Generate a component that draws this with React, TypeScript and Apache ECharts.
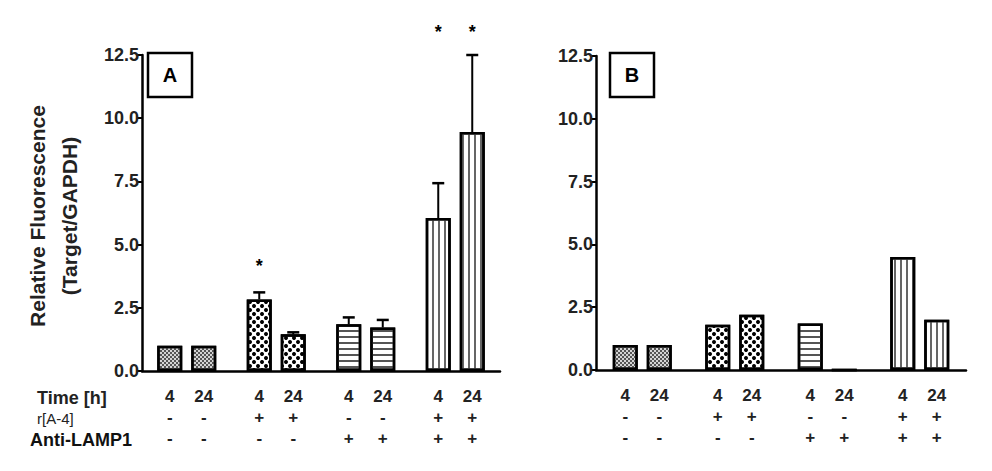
import React, { useEffect, useRef } from "react";
import * as echarts from "echarts";

// ---------- data ----------
const categories = ["Control", "r[A-4]", "Anti-LAMP1", "r[A-4] + Anti-LAMP1"];
const times = ["4", "24"];
const rA4Signs = [["-", "-"], ["+", "+"], ["-", "-"], ["+", "+"]];
const antiLampSigns = [["-", "-"], ["-", "-"], ["+", "+"], ["+", "+"]];
const yTicks = [0, 2.5, 5, 7.5, 10, 12.5];

// Panel A
const aMean4h = [1.0, 2.83, 1.85, 6.05];
const aMean24h = [1.0, 1.45, 1.72, 9.45];
const aErr4h = [0, 0.28, 0.27, 1.38];
const aErr24h = [0, 0.08, 0.3, 3.05];
const aStar4h: (number | null)[] = [null, 4.15, null, 13.4];
const aStar24h: (number | null)[] = [null, null, null, 13.4];

// Panel B
const bMean4h = [1.0, 1.8, 1.85, 4.5];
const bMean24h = [1.0, 2.2, 0, 2.0];

// ---------- styles ----------
const FONT = 'Arial, "Liberation Sans", Helvetica, sans-serif';
const barWidth = 25;
const barGapPx = 9;
const halfPitch = (barWidth + barGapPx) / 2;

const fills = ["#d4d4d4", "#ffffff", "#ffffff", "#ffffff"];
const decals: any[] = [
  { symbol: "rect", symbolSize: 1, dashArrayX: [[2, 2], [0, 2, 2, 0]], dashArrayY: [2, 0], color: "#555555" },
  { symbol: "circle", symbolSize: 1, dashArrayX: [[4, 4], [0, 4, 4, 0]], dashArrayY: [4, 0], color: "#000000" },
  { symbol: "rect", symbolSize: 1, dashArrayX: [1, 0], dashArrayY: [1.6, 3.2], color: "#555555" },
  { symbol: "rect", symbolSize: 1, dashArrayX: [1.6, 3.4], dashArrayY: [1, 0], color: "#666666" },
];

function barSeries(axis: number, values: number[]) {
  return {
    type: "bar",
    xAxisIndex: axis,
    yAxisIndex: axis,
    barWidth,
    barGap: `${(barGapPx / barWidth) * 100}%`,
    data: values.map((v, i) => ({
      value: v,
      itemStyle: { color: fills[i], decal: decals[i], borderColor: "#000", borderWidth: 2.5 },
    })),
    z: 2,
  };
}

function errorSeries(axis: number, mean: number[], err: number[], side: number) {
  return {
    type: "custom",
    xAxisIndex: axis,
    yAxisIndex: axis,
    clip: false,
    silent: true,
    z: 3,
    data: mean.map((m, i) => [i, m, m + err[i]]),
    renderItem: (_p: any, api: any) => {
      if (api.value(2) <= api.value(1)) return { type: "group", children: [] };
      const base = api.coord([api.value(0), api.value(1)]);
      const top = api.coord([api.value(0), api.value(2)]);
      const x = base[0] + side * halfPitch;
      return {
        type: "group",
        children: [
          { type: "line", shape: { x1: x, y1: base[1], x2: x, y2: top[1] }, style: { stroke: "#000", lineWidth: 2 } },
          { type: "line", shape: { x1: x - 6, y1: top[1], x2: x + 6, y2: top[1] }, style: { stroke: "#000", lineWidth: 2.5 } },
        ],
      };
    },
  };
}

function starSeries(axis: number, stars: (number | null)[], side: number) {
  return {
    type: "custom",
    xAxisIndex: axis,
    yAxisIndex: axis,
    clip: false,
    silent: true,
    z: 3,
    data: stars.map((s, i) => (s == null ? null : [i, s])).filter((d) => d != null),
    renderItem: (_p: any, api: any) => {
      const pt = api.coord([api.value(0), api.value(1)]);
      return {
        type: "text",
        x: pt[0] + side * halfPitch,
        y: pt[1],
        style: { text: "*", fontSize: 18, fontWeight: "bold", fontFamily: FONT, fill: "#000", align: "center", verticalAlign: "middle" },
      };
    },
  };
}

function xAxis(grid: number) {
  return {
    type: "category",
    gridIndex: grid,
    data: categories,
    axisLine: { lineStyle: { color: "#000", width: 2.5 } },
    axisTick: { alignWithLabel: true, length: 6, lineStyle: { color: "#000", width: 2 } },
    axisLabel: {
      margin: 14,
      interval: 0,
      formatter: (val: string) => {
        const i = categories.indexOf(val);
        return `{t|${times[0]}}{t|${times[1]}}\n{s|${rA4Signs[i][0]}}{s|${rA4Signs[i][1]}}\n{s|${antiLampSigns[i][0]}}{s|${antiLampSigns[i][1]}}`;
      },
      rich: {
        t: { width: halfPitch * 2, align: "center", fontSize: 17, fontWeight: "bold", fontFamily: FONT, color: "#222", lineHeight: 22 },
        s: { width: halfPitch * 2, align: "center", fontSize: 17, fontWeight: "bold", fontFamily: FONT, color: "#222", lineHeight: 21 },
      },
    },
  };
}

function yAxis(grid: number) {
  return {
    type: "value",
    gridIndex: grid,
    min: yTicks[0],
    max: yTicks[yTicks.length - 1],
    interval: yTicks[1] - yTicks[0],
    axisLine: { show: true, lineStyle: { color: "#000", width: 2.5 } },
    axisTick: { show: true, length: 5, lineStyle: { color: "#000", width: 2 } },
    splitLine: { show: false },
    axisLabel: {
      margin: 3,
      fontSize: 18,
      fontWeight: "bold",
      fontFamily: FONT,
      color: "#222",
      formatter: (v: number) => v.toFixed(1),
    },
  };
}

function panelBox(cx: number, cy: number, letter: string) {
  return {
    type: "group",
    children: [
      { type: "rect", shape: { x: cx - 22, y: cy - 22, width: 44, height: 44 }, style: { fill: "#fff", stroke: "#000", lineWidth: 2.5 } },
      { type: "text", x: cx, y: cy, style: { text: letter, fontSize: 20, fontWeight: "bold", fontFamily: FONT, fill: "#000", align: "center", verticalAlign: "middle" } },
    ],
  };
}

export default function App() {
  const ref = useRef<HTMLDivElement>(null);
  useEffect(() => {
    if (!ref.current) return;
    const chart = echarts.init(ref.current, undefined, { renderer: "svg" });
    chart.setOption({
      animation: false,
      backgroundColor: "#fff",
      grid: [
        { left: 142, top: 55, width: 358, height: 316 },
        { left: 596, top: 56, width: 370, height: 314 },
      ],
      xAxis: [xAxis(0), xAxis(1)],
      yAxis: [yAxis(0), yAxis(1)],
      series: [
        barSeries(0, aMean4h),
        barSeries(0, aMean24h),
        errorSeries(0, aMean4h, aErr4h, -1),
        errorSeries(0, aMean24h, aErr24h, 1),
        starSeries(0, aStar4h, -1),
        starSeries(0, aStar24h, 1),
        barSeries(1, bMean4h),
        barSeries(1, bMean24h),
      ],
      graphic: [
        {
          type: "text",
          x: 53,
          y: 216,
          rotation: Math.PI / 2,
          style: {
            text: "Relative Fluorescence\n(Target/GAPDH)",
            fontSize: 21,
            fontWeight: "bold",
            fontFamily: FONT,
            fill: "#222",
            align: "center",
            verticalAlign: "middle",
            lineHeight: 32,
          },
        },
        panelBox(170, 75, "A"),
        panelBox(632, 75, "B"),
        { type: "text", x: 37, y: 398, style: { text: "Time [h]", fontSize: 18, fontWeight: "bold", fontFamily: FONT, fill: "#222", verticalAlign: "middle" } },
        { type: "text", x: 37, y: 418, style: { text: "r[A-4]", fontSize: 15, fontFamily: FONT, fill: "#222", verticalAlign: "middle" } },
        { type: "text", x: 30, y: 440, style: { text: "Anti-LAMP1", fontSize: 18, fontWeight: "bold", fontFamily: FONT, fill: "#111", verticalAlign: "middle" } },
      ],
    });
    return () => chart.dispose();
  }, []);
  return <div ref={ref} style={{ position: "absolute", left: 0, top: 0, width: 992, height: 471 }} />;
}
